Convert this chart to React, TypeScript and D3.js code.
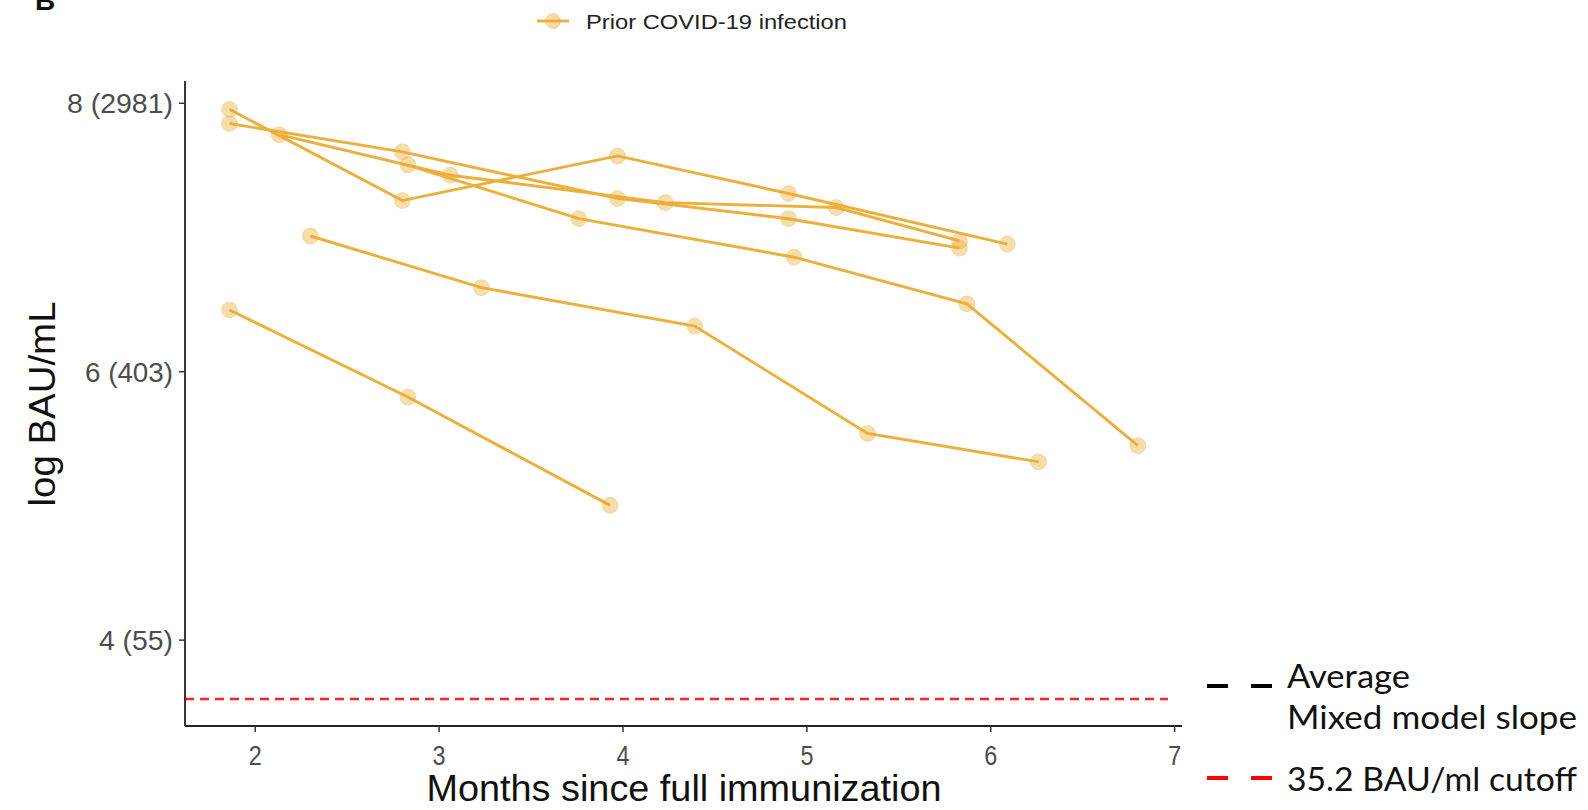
import React from "react";
import * as d3 from "d3";

// ---- data (months since full immunization, log BAU/mL) ----
const subjectIds = ["P1", "P2", "P3", "P4", "P5", "P6"];
const p1Months = [1.86, 2.8, 3.97, 4.9, 6.09];
const p1Values = [7.955, 7.275, 7.608, 7.328, 6.951];
const p2Months = [1.86, 2.8, 3.97, 4.9, 5.83];
const p2Values = [7.849, 7.638, 7.291, 7.14, 6.921];
const p3Months = [2.13, 3.06, 4.23, 5.16, 5.83];
const p3Values = [7.766, 7.464, 7.26, 7.223, 6.974];
const p4Months = [2.83, 3.76, 4.93, 5.87, 6.8];
const p4Values = [7.54, 7.14, 6.853, 6.506, 5.449];
const p5Months = [2.3, 3.23, 4.39, 5.33, 6.26];
const p5Values = [7.011, 6.626, 6.34, 5.54, 5.328];
const p6Months = [1.86, 2.83, 3.93];
const p6Values = [6.46, 5.811, 5.004];
const allMonths = [p1Months, p2Months, p3Months, p4Months, p5Months, p6Months];
const allValues = [p1Values, p2Values, p3Values, p4Values, p5Values, p6Values];

const xTicks = [2, 3, 4, 5, 6, 7];
const yTicks = [4, 6, 8];
const yTickLabels = ["4 (55)", "6 (403)", "8 (2981)"];
const cutoffBAU = 35.2;

const COLOR = "#EBAF3A";

export default function App() {
  const left = 185, right = 1182, top = 81, bottom = 726;
  const x = d3.scaleLinear().domain([1.618, 7.04]).range([left, right]);
  const y = d3.scaleLinear().domain([3.36, 8.166]).range([bottom, top]);
  const line = d3
    .line<[number, number]>()
    .x((d) => x(d[0]))
    .y((d) => y(d[1]));

  const series = allMonths.map((m, i) =>
    m.map((v, j) => [v, allValues[i][j]] as [number, number])
  );
  const cutY = y(Math.log(cutoffBAU));
  const labelWidths = [74, 88, 106];

  return (
    <svg
      width={1588}
      height={810}
      style={{ position: "absolute", left: 0, top: 0, background: "#fff" }}
      fontFamily="'Liberation Sans', Arial, sans-serif"
    >
      <rect width={1588} height={810} fill="#fff" />
      {/* panel letter, cut off at top as in the source figure */}
      <text x={35} y={10} fontSize={28} fontWeight="bold" fill="#111">
        B
      </text>

      {/* top legend */}
      <line x1={537} x2={569} y1={21} y2={21} stroke={COLOR} strokeWidth={2.8} />
      <circle cx={553} cy={21} r={7.5} fill={COLOR} fillOpacity={0.45} stroke={COLOR} strokeOpacity={0.35} />
      <text x={586} y={29} fontSize={21} fill="#222" textLength={261} lengthAdjust="spacingAndGlyphs">
        Prior COVID-19 infection
      </text>

      {/* cutoff line */}
      <line
        x1={left}
        x2={right - 14}
        y1={cutY}
        y2={cutY}
        stroke="#FF2020"
        strokeWidth={2.4}
        strokeDasharray="9,6"
      />

      {/* data */}
      {series.map((s, i) => (
        <g key={subjectIds[i]}>
          <path d={line(s) || ""} fill="none" stroke={COLOR} strokeWidth={2.9} />
          {s.map((d, j) => (
            <circle
              key={j}
              cx={x(d[0])}
              cy={y(d[1])}
              r={8}
              fill={COLOR}
              fillOpacity={0.42}
              stroke={COLOR}
              strokeOpacity={0.3}
            />
          ))}
        </g>
      ))}

      {/* axes */}
      <line x1={left} x2={left} y1={top} y2={bottom} stroke="#222" strokeWidth={1.8} />
      <line x1={left} x2={right} y1={bottom} y2={bottom} stroke="#222" strokeWidth={1.8} />
      {yTicks.map((t, i) => (
        <g key={t}>
          <line x1={left - 6} x2={left} y1={y(t)} y2={y(t)} stroke="#333" strokeWidth={1.5} />
          <text
            x={left - 12}
            y={y(t) + 10}
            fontSize={28}
            fill="#4d4d4d"
            textAnchor="end"
            textLength={labelWidths[i]}
            lengthAdjust="spacingAndGlyphs"
          >
            {yTickLabels[i]}
          </text>
        </g>
      ))}
      {xTicks.map((t) => (
        <g key={t}>
          <line x1={x(t)} x2={x(t)} y1={bottom} y2={bottom + 6} stroke="#333" strokeWidth={1.5} />
          <text
            x={x(t) - 6.5}
            y={bottom + 39}
            fontSize={28}
            fill="#4d4d4d"
            textLength={13}
            lengthAdjust="spacingAndGlyphs"
          >
            {t}
          </text>
        </g>
      ))}
      <text
        x={684}
        y={801}
        fontSize={36}
        fill="#111"
        textAnchor="middle"
        textLength={515}
        lengthAdjust="spacingAndGlyphs"
      >
        Months since full immunization
      </text>
      <text
        transform={`translate(55,404) rotate(-90)`}
        fontSize={36}
        fill="#111"
        textAnchor="middle"
        textLength={205}
        lengthAdjust="spacingAndGlyphs"
      >
        log BAU/mL
      </text>

      {/* right legend */}
      <g fontFamily="Lato, 'Open Sans', sans-serif" fill="#111">
        <line x1={1207} x2={1228} y1={686} y2={686} stroke="#000" strokeWidth={4} />
        <line x1={1251} x2={1272} y1={686} y2={686} stroke="#000" strokeWidth={4} />
        <line x1={1207} x2={1228} y1={778} y2={778} stroke="#FF0000" strokeWidth={4} />
        <line x1={1251} x2={1272} y1={778} y2={778} stroke="#FF0000" strokeWidth={4} />
        <text x={1287} y={688} fontSize={32} textLength={123} lengthAdjust="spacingAndGlyphs">
          Average
        </text>
        <text x={1287} y={729} fontSize={32} textLength={290} lengthAdjust="spacingAndGlyphs">
          Mixed model slope
        </text>
        <text x={1287} y={791} fontSize={32} textLength={290} lengthAdjust="spacingAndGlyphs">
          35.2 BAU/ml cutoff
        </text>
      </g>
    </svg>
  );
}
